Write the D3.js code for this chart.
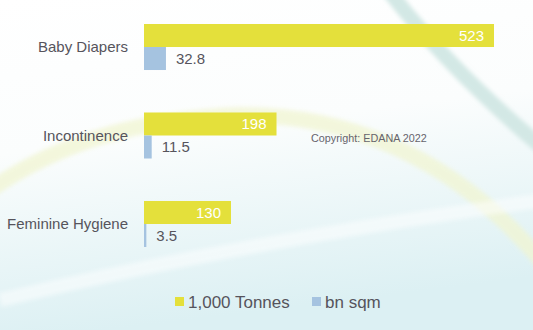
<!DOCTYPE html>
<html>
<head>
<meta charset="utf-8">
<script src="https://d3js.org/d3.v7.min.js"></script>
<style>
body { margin: 0; }
svg { font-family: 'Liberation Sans', Arial, sans-serif; display: block; }
.cat { font-size: 15px; fill: #56545c; }
.val { font-size: 15px; }
.legend text { font-size: 17px; fill: #56545c; }
</style>
</head>
<body>
<div id="chart"></div>
<script>
const categories = ["Baby Diapers", "Incontinence", "Feminine Hygiene"];
const tonnes = [523, 198, 130];     // 1,000 Tonnes
const sqm = [32.8, 11.5, 3.5];      // bn sqm
const seriesNames = ["1,000 Tonnes", "bn sqm"];
const colors = ["#e4e03b", "#a5c3e0"];

const width = 533, height = 330;

const svg = d3.select("#chart").append("svg")
    .attr("width", width)
    .attr("height", height);

// background: soft gradient + swooshes
const defs = svg.append("defs");
const bg = defs.append("linearGradient").attr("id", "bg")
    .attr("x1", 0).attr("y1", 0).attr("x2", 0.2).attr("y2", 1);
bg.append("stop").attr("offset", "0%").attr("stop-color", "#ffffff");
bg.append("stop").attr("offset", "45%").attr("stop-color", "#fbfdfd");
bg.append("stop").attr("offset", "100%").attr("stop-color", "#dcf0f3");
defs.append("filter").attr("id", "blur").append("feGaussianBlur").attr("stdDeviation", 2);

svg.append("rect").attr("width", width).attr("height", height).attr("fill", "url(#bg)");

svg.append("path")
    .attr("d", "M388,-10 Q450,70 545,150")
    .attr("fill", "none").attr("stroke", "#d3e8e5").attr("stroke-width", 15)
    .attr("filter", "url(#blur)");
svg.append("path")
    .attr("d", "M-10,190 Q90,120 240,115 Q420,115 545,265")
    .attr("fill", "none").attr("stroke", "#f1f5d2").attr("stroke-width", 16)
    .attr("opacity", 0.75).attr("filter", "url(#blur)");
svg.append("path")
    .attr("d", "M0,300 Q250,240 545,200")
    .attr("fill", "none").attr("stroke", "#ffffff").attr("stroke-width", 14)
    .attr("opacity", 0.5).attr("filter", "url(#blur)");

const x = d3.scaleLinear().domain([0, 523]).range([144, 494]);
const y = d3.scaleBand().domain(categories).range([24, 247]).paddingInner(0.48).paddingOuter(0);
const h = y.bandwidth() / 2;

const rows = svg.selectAll(".row")
    .data(categories)
    .enter().append("g")
    .attr("class", "row");

rows.append("rect")
    .attr("x", x(0))
    .attr("y", d => y(d))
    .attr("width", (d, i) => x(tonnes[i]) - x(0))
    .attr("height", h)
    .attr("fill", colors[0]);

rows.append("rect")
    .attr("x", x(0))
    .attr("y", d => y(d) + h)
    .attr("width", (d, i) => x(sqm[i]) - x(0))
    .attr("height", h)
    .attr("fill", colors[1]);

rows.append("text")
    .attr("class", "cat")
    .attr("x", 128)
    .attr("y", d => y(d) + h)
    .attr("dy", "0.35em")
    .attr("text-anchor", "end")
    .text(d => d);

rows.append("text")
    .attr("class", "val")
    .attr("x", (d, i) => x(tonnes[i]) - 10)
    .attr("y", d => y(d) + h / 2)
    .attr("dy", "0.36em")
    .attr("text-anchor", "end")
    .attr("fill", "#fff")
    .text((d, i) => tonnes[i]);

rows.append("text")
    .attr("class", "val")
    .attr("x", (d, i) => x(sqm[i]) + 10)
    .attr("y", d => y(d) + h * 1.5)
    .attr("dy", "0.36em")
    .attr("fill", "#56545c")
    .text((d, i) => sqm[i]);

svg.append("text")
    .attr("x", 311)
    .attr("y", 138)
    .attr("dy", "0.35em")
    .attr("font-size", "10.8px")
    .attr("fill", "#66646c")
    .text("Copyright: EDANA 2022");

// legend
const legendX = [175, 312];
const legend = svg.selectAll(".legend")
    .data(seriesNames)
    .enter().append("g")
    .attr("class", "legend")
    .attr("transform", (d, i) => `translate(${legendX[i]},302)`);
legend.append("rect")
    .attr("x", 0).attr("y", -5)
    .attr("width", 9).attr("height", 9)
    .attr("fill", (d, i) => colors[i]);
legend.append("text")
    .attr("x", 13)
    .attr("dy", "0.35em")
    .text(d => d);
</script>
</body>
</html>
